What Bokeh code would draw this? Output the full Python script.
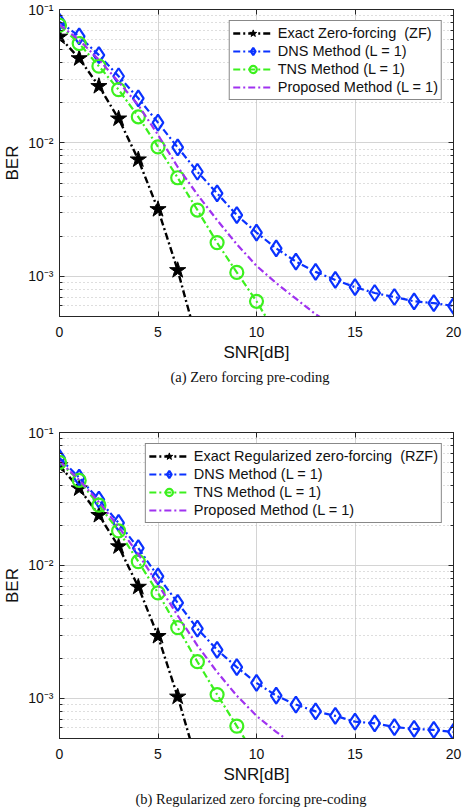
import numpy as np
from bokeh.plotting import figure
from bokeh.models import Range1d, FixedTicker, LogAxis, LinearAxis, Title
from bokeh.layouts import column
from bokeh.embed import file_html
from bokeh.resources import INLINE

# ---------------- data ----------------
snr = list(range(21))

# (a) zero forcing
zf_exact = [0.0624, 0.043, 0.0266, 0.0152, 0.0075, 0.00318, 0.00111, 0.00032]
zf_dns = [0.0808, 0.063, 0.0455, 0.0316, 0.0216, 0.0142, 0.00925, 0.00608, 0.00419,
          0.00288, 0.00213, 0.00162, 0.00129, 0.00108, 0.00094, 0.00083, 0.00075,
          0.0007, 0.00065, 0.00063, 0.0006]
zf_tns = [0.0762, 0.0556, 0.0376, 0.0251, 0.0157, 0.00935, 0.00548, 0.00314, 0.00179,
          0.00107, 0.00065, 0.00037]
zf_prop = [0.077, 0.059, 0.042, 0.0287, 0.0192, 0.0115, 0.0066, 0.0041, 0.00264,
           0.00174, 0.0012, 0.00089, 0.00068, 0.00052, 0.00042]

# (b) regularized zero forcing
rzf_exact = [0.0565, 0.0379, 0.0239, 0.0139, 0.0069, 0.00294, 0.00103, 0.00032]
rzf_dns = [0.0644, 0.0457, 0.0313, 0.0209, 0.0135, 0.00828, 0.00524, 0.00335, 0.00232,
           0.00172, 0.00131, 0.00105, 0.0009, 0.0008, 0.00074, 0.00067, 0.00065,
           0.00061, 0.00059, 0.00058, 0.00056]
rzf_tns = [0.0597, 0.0436, 0.0284, 0.0182, 0.0107, 0.00622, 0.00341, 0.00189, 0.00107,
           0.00062, 0.00036]
rzf_prop = [0.061, 0.044, 0.030, 0.0195, 0.0122, 0.0072, 0.0042, 0.0025, 0.00158,
            0.00105, 0.00074, 0.00056, 0.00044]

x_ticks = [0, 5, 10, 15, 20]
y_ticks = [1e-3, 1e-2, 1e-1]
y_tick_labels = ["10\u207b\u00b3", "10\u207b\u00b2", "10\u207b\u00b9"]
y_minor = [m * 10.0 ** e for e in (-4, -3, -2) for m in range(2, 10) if m * 10.0 ** e >= 5e-4]

labels_a = ["Exact Zero-forcing  (ZF)", "DNS Method (L = 1)", "TNS Method (L = 1)",
            "Proposed Method (L = 1)"]
labels_b = ["Exact Regularized zero-forcing  (RZF)", "DNS Method (L = 1)",
            "TNS Method (L = 1)", "Proposed Method (L = 1)"]
captions = ["(a) Zero forcing pre-coding", "(b) Regularized zero forcing pre-coding"]

# ---------------- style ----------------
SANS = "Liberation Sans"
AX = "#262626"
C_BLACK = "#000000"
C_BLUE = "#0a32ff"
C_GREEN = "#3cf01e"
C_PURPLE = "#a032f0"
DASH = "7 3 2 3"


def style_axis(ax, minor=True):
    ax.major_tick_in = 5
    ax.major_tick_out = 0
    ax.minor_tick_in = 3 if minor else 0
    ax.minor_tick_out = 0
    ax.major_tick_line_color = AX
    ax.minor_tick_line_color = AX if minor else None
    ax.axis_line_color = AX
    ax.major_label_text_font = SANS
    ax.major_label_text_font_size = "14px"
    ax.major_label_text_color = "#111111"
    ax.axis_label_text_font = SANS
    ax.axis_label_text_font_size = "17px"
    ax.axis_label_text_font_style = "normal"
    ax.axis_label_text_color = "#111111"


def make_panel(labels, exact, dns, tns, prop, caption, cap_offset, height, top_b, bottom_b):
    p = figure(width=463, height=height, x_range=Range1d(0, 20),
               y_range=Range1d(5e-4, 0.1), y_axis_type="log",
               output_backend="svg", toolbar_location=None,
               min_border_left=57, min_border_right=10,
               min_border_top=top_b, min_border_bottom=bottom_b)
    p.outline_line_color = AX
    p.outline_line_width = 1

    yt = FixedTicker(ticks=y_ticks, minor_ticks=y_minor)
    xt = FixedTicker(ticks=x_ticks)
    p.yaxis.ticker = yt
    p.xaxis.ticker = xt
    p.yaxis.major_label_overrides = {t: l for t, l in zip(y_ticks, y_tick_labels)}
    p.yaxis.major_label_standoff = 6
    p.yaxis.axis_label = "BER"
    p.yaxis.axis_label_standoff = 3
    p.xaxis.axis_label = "SNR[dB]"
    p.xaxis.major_label_standoff = 10
    p.xaxis.axis_label_standoff = 3
    style_axis(p.yaxis[0], True)
    style_axis(p.xaxis[0], False)

    ra = LogAxis(ticker=yt, major_label_standoff=0)
    style_axis(ra, True)
    ra.major_label_text_font_size = "0px"
    ra.major_label_text_color = None
    p.add_layout(ra, "right")
    ta = LinearAxis(ticker=xt, major_label_standoff=0)
    style_axis(ta, False)
    ta.major_label_text_font_size = "0px"
    ta.major_label_text_color = None
    p.add_layout(ta, "above")

    p.xgrid.grid_line_color = "#d4d4d4"
    p.ygrid.grid_line_color = "#d4d4d4"
    p.ygrid.minor_grid_line_color = "#bdbdbd"
    p.ygrid.minor_grid_line_dash = "1 3"

    n = len(exact)
    p.line(snr[:n], exact, color=C_BLACK, line_width=2.4, line_dash=DASH, legend_label=labels[0])
    p.scatter(snr[:n], exact, marker="star", size=17, color=C_BLACK, legend_label=labels[0])

    n = len(dns)
    p.line(snr[:n], dns, color=C_BLUE, line_width=2.2, line_dash=DASH, legend_label=labels[1])
    p.scatter(snr[:n], dns, marker="diamond", size=16, line_color=C_BLUE,
              line_width=2.2, fill_color=None, legend_label=labels[1])

    n = len(tns)
    p.line(snr[:n], tns, color=C_GREEN, line_width=2.2, line_dash=DASH, legend_label=labels[2])
    p.scatter(snr[:n], tns, marker="circle", size=13, line_color=C_GREEN,
              line_width=2.2, fill_color=None, legend_label=labels[2])

    n = len(prop)
    p.line(snr[:n], prop, color=C_PURPLE, line_width=2.2, line_dash=DASH, legend_label=labels[3])

    lg = p.legend[0]
    lg.location = "top_right"
    lg.margin = 11
    lg.padding = 3
    lg.spacing = 0
    lg.label_height = 18
    lg.glyph_height = 18
    lg.glyph_width = 40
    lg.label_standoff = 5
    lg.label_text_font = SANS
    lg.label_text_font_size = "14.5px"
    lg.label_text_color = "#111111"
    lg.border_line_color = "#111111"
    lg.border_line_width = 1
    lg.background_fill_alpha = 1

    cap = Title(text=caption, align="left", text_font="Liberation Serif",
                text_font_size="14.5px", text_font_style="normal", text_color="#111111",
                standoff=4, offset=cap_offset)
    p.add_layout(cap, "below")
    return p


p1 = make_panel(labels_a, zf_exact, zf_dns, zf_tns, zf_prop, captions[0], 111, 422, 9, 106)
p2 = make_panel(labels_b, rzf_exact, rzf_dns, rzf_tns, rzf_prop, captions[1], 76, 386, 10, 69)

layout = column(p1, p2, spacing=0)

open("out.html", "w").write(file_html(layout, INLINE))
